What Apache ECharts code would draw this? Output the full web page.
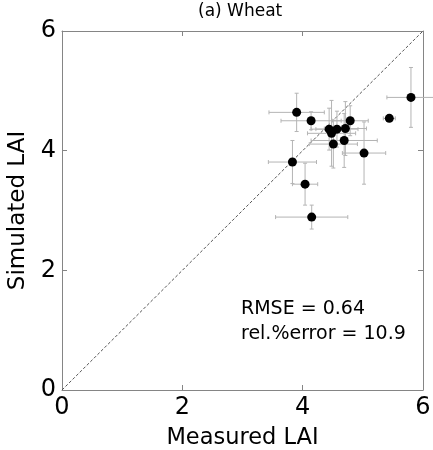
<!DOCTYPE html>
<html>
<head>
<meta charset="utf-8">
<script src="https://cdn.jsdelivr.net/npm/echarts@6/dist/echarts.min.js"></script>
<style>html,body{margin:0;padding:0;background:#fff;}#c{width:433px;height:450px;}</style>
</head>
<body>
<div id="c"></div>
<script>
// Measured LAI (x), simulated LAI (y), and their error half-widths
const measured  = [3.90, 4.14, 4.44, 4.57, 4.48, 4.71, 4.79, 4.69, 4.51, 5.02, 3.83, 4.04, 4.15, 5.44, 5.80];
const simulated = [4.64, 4.50, 4.36, 4.36, 4.29, 4.37, 4.50, 4.17, 4.11, 3.96, 3.81, 3.44, 2.89, 4.54, 4.89];
const xErr      = [0.46, 0.50, 0.30, 0.35, 0.40, 0.35, 0.30, 0.55, 0.40, 0.36, 0.40, 0.21, 0.60, 0.10, 0.40];
const yErr      = [0.32, 0.15, 0.35, 0.30, 0.55, 0.45, 0.25, 0.45, 0.40, 0.52, 0.36, 0.35, 0.20, 0.05, 0.50];
const oneToOne  = [[0, 0], [6, 6]];
const axisMin = 0, axisMax = 6, axisStep = 2;
const titleText = '(a) Wheat';
const xName = 'Measured LAI';
const yName = 'Simulated LAI';
const statLines = ['RMSE = 0.64', 'rel.%error = 10.9'];

const pts = measured.map((m, i) => [m, simulated[i], xErr[i], yErr[i]]);
const FONT = '"DejaVu Sans", sans-serif';
const frame = '#858585';

function axisCommon(show) {
  return {
    type: 'value', min: axisMin, max: axisMax, interval: axisStep,
    axisLine: { show: true, onZero: false, lineStyle: { color: frame, width: 1 } },
    axisTick: { show: true, inside: true, length: 5, lineStyle: { color: frame } },
    axisLabel: { show: show, color: '#000', fontSize: 24, fontFamily: FONT, margin: 6 },
    splitLine: { show: false }
  };
}

const chart = echarts.init(document.getElementById('c'), null, { renderer: 'canvas' });
chart.setOption({
  animation: false,
  backgroundColor: '#fff',
  grid: { left: 62, right: 10, top: 31, bottom: 60, containLabel: false, outerBoundsMode: 'none' },
  xAxis: [
    Object.assign(axisCommon(true), { position: 'bottom', name: xName, nameLocation: 'middle', nameGap: 37,
      nameTextStyle: { color: '#000', fontSize: 22.5, fontFamily: FONT } }),
    Object.assign(axisCommon(false), { position: 'top' })
  ],
  yAxis: [
    Object.assign(axisCommon(true), { position: 'left', name: yName, nameLocation: 'middle', nameGap: 21,
      nameTextStyle: { color: '#000', fontSize: 23, fontFamily: FONT } }),
    Object.assign(axisCommon(false), { position: 'right' })
  ],
  graphic: [
    { type: 'text', left: 198, top: 3, style: { text: titleText, fill: '#000', font: '17px ' + FONT } },
    { type: 'text', left: 241, top: 300, style: { text: statLines[0], fill: '#000', font: '19px ' + FONT } },
    { type: 'text', left: 241, top: 325, style: { text: statLines[1], fill: '#000', font: '19px ' + FONT } }
  ],
  series: [
    {
      type: 'line', data: oneToOne, symbol: 'none', silent: true, z: 1,
      lineStyle: { color: '#555', width: 1, type: [3, 2] }
    },
    {
      type: 'custom', data: pts, z: 2, silent: true,
      renderItem: function (params, api) {
        const x = api.value(0), y = api.value(1), ex = api.value(2), ey = api.value(3);
        const l = api.coord([x - ex, y]), r = api.coord([x + ex, y]);
        const t = api.coord([x, y + ey]), b = api.coord([x, y - ey]);
        const st = { stroke: '#b4b4b4', lineWidth: 1 };
        const cap = 2;
        return {
          type: 'group',
          children: [
            { type: 'line', shape: { x1: l[0], y1: l[1], x2: r[0], y2: r[1] }, style: st },
            { type: 'line', shape: { x1: t[0], y1: t[1], x2: b[0], y2: b[1] }, style: st },
            { type: 'line', shape: { x1: l[0], y1: l[1] - cap, x2: l[0], y2: l[1] + cap }, style: st },
            { type: 'line', shape: { x1: r[0], y1: r[1] - cap, x2: r[0], y2: r[1] + cap }, style: st },
            { type: 'line', shape: { x1: t[0] - cap, y1: t[1], x2: t[0] + cap, y2: t[1] }, style: st },
            { type: 'line', shape: { x1: b[0] - cap, y1: b[1], x2: b[0] + cap, y2: b[1] }, style: st }
          ]
        };
      }
    },
    {
      type: 'scatter', data: pts.map(p => [p[0], p[1]]), z: 3,
      symbol: 'circle', symbolSize: 9, itemStyle: { color: '#000', opacity: 1 }
    }
  ]
});
</script>
</body>
</html>
